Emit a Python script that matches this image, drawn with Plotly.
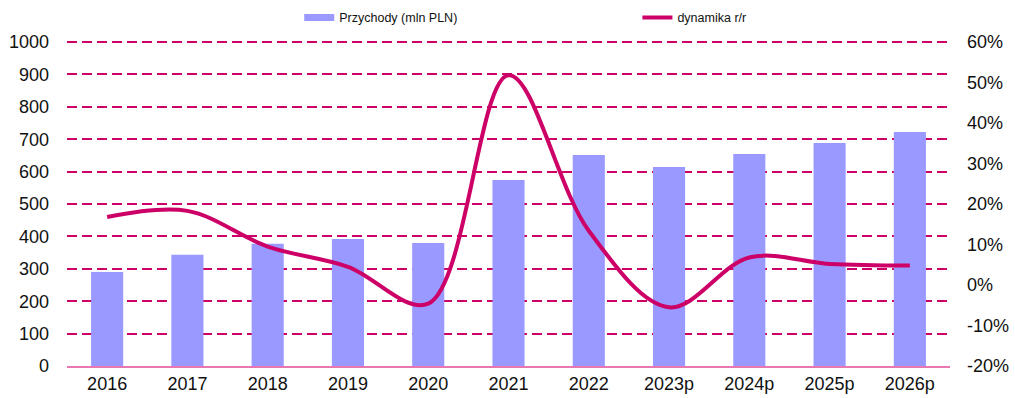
import plotly.graph_objects as go

years = ["2016", "2017", "2018", "2019", "2020", "2021", "2022", "2023p", "2024p", "2025p", "2026p"]
revenue = [290, 343, 377, 392, 380, 574, 651, 614, 654, 688, 722]
growth = [16.8, 18.3, 9.5, 4.5, -4.6, 51.8, 13.4, -5.5, 6.8, 5.2, 4.8]

left_ticks = list(range(0, 1001, 100))
right_ticks = list(range(-20, 61, 10))
right_labels = [f"{v}%" for v in right_ticks]

BAR = "#9999FF"
LINE = "#CC0066"
FONT = "Liberation Sans, Arial, sans-serif"

fig = go.Figure()
fig.add_trace(go.Bar(
    x=years, y=revenue, name="Przychody (mln PLN)",
    marker=dict(color=BAR, line=dict(width=0)), yaxis="y", showlegend=False,
))
# legend key for the bars (wide rectangle like the reference)
fig.add_trace(go.Scatter(
    x=[None], y=[None], name="Przychody (mln PLN)", mode="lines",
    line=dict(color=BAR, width=7), legend="legend", showlegend=True,
))
fig.add_trace(go.Scatter(
    x=years, y=growth, name="dynamika r/r", mode="lines",
    line=dict(color=LINE, width=4, shape="spline", smoothing=1.0), yaxis="y2",
    legend="legend2",
))

leg_common = dict(
    orientation="h", yanchor="middle", y=1.068, xanchor="left",
    font=dict(size=12.5, color="#111111"), bgcolor="rgba(0,0,0,0)",
    borderwidth=0,
)

fig.update_layout(
    width=1015, height=398,
    margin=dict(l=67, r=65, t=40, b=32, autoexpand=False),
    paper_bgcolor="white", plot_bgcolor="white",
    font=dict(family=FONT, size=18, color="#111111"),
    bargap=0.6,
    showlegend=True,
    legend=dict(x=0.263, **leg_common),
    legend2=dict(x=0.646, **leg_common),
    xaxis=dict(
        showline=True, linecolor="#E878B0", linewidth=2,
        showgrid=False, ticks="", tickfont=dict(size=18), ticklabelstandoff=0,
    ),
    yaxis=dict(
        range=[0, 1006.2], tickvals=left_ticks, ticks="",
        showgrid=True, gridcolor=LINE, gridwidth=2, griddash="10px,5px",
        zeroline=False, showline=False, ticklabelstandoff=17,
    ),
    yaxis2=dict(
        range=[-20, 60.49], tickmode="array", tickvals=right_ticks, ticktext=right_labels,
        overlaying="y", side="right", showgrid=False, zeroline=False,
        showline=False, ticks="", ticklabelstandoff=16,
    ),
)

fig.write_html("out.html")
